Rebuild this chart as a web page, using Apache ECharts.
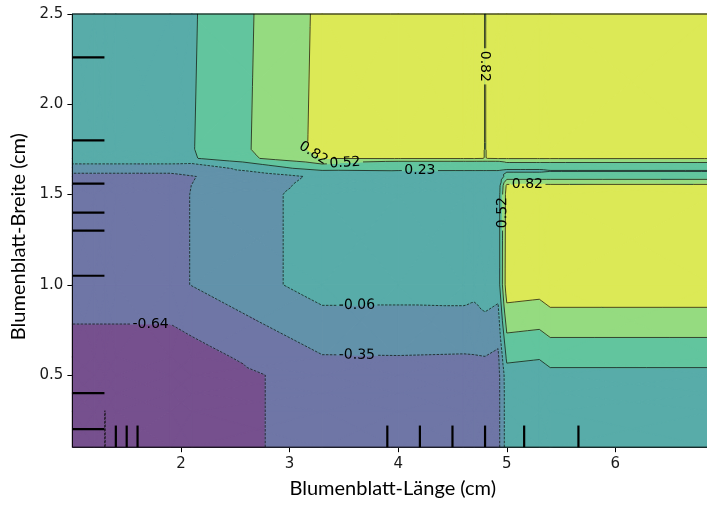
<!DOCTYPE html>
<html>
<head>
<meta charset="utf-8">
<script src="https://cdn.jsdelivr.net/npm/echarts@6/dist/echarts.min.js"></script>
<style>
  html, body { margin: 0; padding: 0; background: #fff; }
  #chart { width: 707px; height: 506px; }
</style>
</head>
<body>
<div id="chart"></div>
<script>
// ---- partial dependence grid: petal length (x) by petal width (y) ----
const petalLength = [1.0, 1.2, 1.3, 1.4, 1.9, 2.1, 3.3, 4.0, 4.6, 4.7, 4.8, 4.92, 5.0, 5.3, 5.4, 6.9];
const petalWidth = [0.1, 0.3, 0.4, 0.5, 0.6, 1.0, 1.5, 1.55, 1.6, 1.63, 1.65, 1.68, 1.7, 1.75, 2.5];

// one row of partial dependence values per petal width, across petal length
const pd_w010 = [-0.85, -0.85, -0.930, -0.85, -0.85, -0.801, -0.51, -0.51, -0.51, -0.51, -0.51, -0.45, 0.10, 0.10, 0.10, 0.10];
const pd_w030 = [-0.85, -0.85, -0.930, -0.85, -0.85, -0.801, -0.51, -0.51, -0.51, -0.51, -0.51, -0.45, 0.10, 0.10, 0.10, 0.10];
const pd_w040 = [-0.85, -0.85, -0.85, -0.85, -0.85, -0.801, -0.51, -0.51, -0.51, -0.51, -0.51, -0.45, 0.10, 0.10, 0.10, 0.10];
const pd_w050 = [-0.85, -0.85, -0.85, -0.85, -0.85, -0.801, -0.51, -0.51, -0.51, -0.51, -0.51, -0.45, 0.12, 0.085, 0.163, 0.163];
const pd_w060 = [-0.83, -0.83, -0.83, -0.83, -0.83, -0.755, -0.36, -0.355, -0.365, -0.36, -0.35, -0.40, 0.294, 0.259, 0.337, 0.337];
const pd_w100 = [-0.407, -0.407, -0.407, -0.407, -0.407, -0.34, 0.065, 0.06, 0.07, 0.04, 0.12, 0.065, 0.99, 0.955, 1.033, 1.033];
const pd_w150 = [-0.407, -0.407, -0.407, -0.407, -0.407, -0.34, 0.065, 0.065, 0.065, 0.065, 0.065, 0.065, 0.95, 0.95, 0.95, 0.95];
const pd_w155 = [-0.41, -0.41, -0.41, -0.41, -0.41, -0.345, 0.03, 0.04, 0.04, 0.04, 0.04, 0.04, 0.877, 0.877, 0.877, 0.877];
const pd_w160 = [-0.42, -0.42, -0.42, -0.42, -0.42, -0.359, -0.004, 0.0, 0.0, 0.0, 0.0, 0.0, 0.357, 0.357, 0.357, 0.357];
const pd_w163 = [-0.2965, -0.2965, -0.2965, -0.2965, -0.2965, -0.25, 0.20, 0.225, 0.225, 0.225, 0.225, 0.225, 0.20, 0.20, 0.225, 0.225];
const pd_w165 = [-0.2, -0.2, -0.2, -0.2, -0.2, -0.2, 0.40, 0.30, 0.30, 0.30, 0.30, 0.30, 0.28, 0.28, 0.28, 0.28];
const pd_w168 = [0.021, 0.021, 0.021, 0.021, 0.021, 0.0, 0.60, 0.45, 0.45, 0.45, 0.45, 0.45, 0.55, 0.55, 0.55, 0.55];
const pd_w170 = [0.05, 0.05, 0.05, 0.05, 0.10, 0.205, 0.82, 0.83, 0.83, 0.83, 0.812, 0.83, 0.83, 0.83, 0.83, 0.83];
const pd_w175 = [0.05, 0.05, 0.05, 0.05, 0.10, 0.22, 0.89, 0.876, 0.876, 0.876, 0.812, 0.876, 0.95, 0.95, 0.95, 0.95];
const pd_w250 = [0.05, 0.05, 0.05, 0.05, 0.10, 0.205, 0.876, 0.876, 0.876, 0.876, 0.812, 0.876, 0.95, 0.95, 0.95, 0.95];
const pdGrid = [pd_w010, pd_w030, pd_w040, pd_w050, pd_w060, pd_w100, pd_w150, pd_w155,
                pd_w160, pd_w163, pd_w165, pd_w168, pd_w170, pd_w175, pd_w250];

// contour levels (eight evenly spaced levels between the surface min and max)
const levels = [-0.9277, -0.6372, -0.3467, -0.0562, 0.2343, 0.5248, 0.8153, 1.1058];

// deciles of the two features, drawn as rug ticks
const lengthDeciles = [1.4, 1.5, 1.6, 3.9, 4.2, 4.5, 4.8, 5.16, 5.66];
const widthDeciles = [0.2, 0.4, 1.05, 1.3, 1.4, 1.56, 1.8, 2.26];

// axis tick labels
const xTicks = [2, 3, 4, 5, 6];
const yTicks = [0.5, 1.0, 1.5, 2.0, 2.5];

// contour label anchors: level index and an approximate spot on that line
const labelLevel = [1, 2, 3, 4, 5, 5, 6, 6, 6];
const labelAtLength = [1.72, 3.62, 3.62, 4.20, 3.51, 4.94, 3.21, 4.80, 5.19];
const labelAtWidth = [0.78, 0.61, 0.89, 1.63, 1.675, 1.40, 1.72, 2.21, 1.57];

// ---- styling ----
const bandColors = ['#76508e', '#6f76a6', '#6292aa', '#58aca9', '#62c59e', '#95db80', '#dce956'];
const LABEL_FONT = '"DejaVu Sans"';
const LABEL_SIZE = 14;

// ---- geometry: split every grid cell in four triangles around its centre ----
function buildTriangles() {
  const nx = petalLength.length, ny = petalWidth.length;
  const V = (i, j) => ({ x: petalLength[i], y: petalWidth[j], z: pdGrid[j][i], id: j * nx + i });
  const tris = [];
  let cid = nx * ny;
  for (let j = 0; j < ny - 1; j++) {
    for (let i = 0; i < nx - 1; i++) {
      const a = V(i, j), b = V(i + 1, j), c = V(i + 1, j + 1), d = V(i, j + 1);
      const m = { x: (a.x + b.x) / 2, y: (a.y + d.y) / 2, z: (a.z + b.z + c.z + d.z) / 4, id: cid++ };
      tris.push([a, b, m], [b, c, m], [c, d, m], [d, a, m]);
    }
  }
  return tris;
}

function lerpAt(P, Q, L) {
  const t = (L - P.z) / (Q.z - P.z);
  return { x: P.x + t * (Q.x - P.x), y: P.y + t * (Q.y - P.y), z: L };
}
function clipPoly(poly, L, keepAbove) {
  const out = [];
  const n = poly.length;
  for (let k = 0; k < n; k++) {
    const P = poly[k], Q = poly[(k + 1) % n];
    const pin = keepAbove ? P.z >= L : P.z < L;
    const qin = keepAbove ? Q.z >= L : Q.z < L;
    if (pin) out.push(P);
    if (pin !== qin) out.push(lerpAt(P, Q, L));
  }
  return out;
}

// filled bands
function buildBands(tris) {
  const nb = levels.length - 1;
  const polys = [];
  tris.forEach(tri => {
    for (let b = 0; b < nb; b++) {
      let poly = tri.slice();
      if (b > 0) poly = clipPoly(poly, levels[b], true);
      if (poly.length >= 3 && b < nb - 1) poly = clipPoly(poly, levels[b + 1], false);
      if (poly.length >= 3) polys.push({ band: b, pts: poly });
    }
  });
  return polys;
}

// iso-lines, chained into polylines
function edgeCrossing(P, Q, L) {
  if (P.id > Q.id) { const t = P; P = Q; Q = t; }
  const p = lerpAt(P, Q, L);
  return { key: P.id + '_' + Q.id, x: p.x, y: p.y };
}
function chainSegments(segs) {
  const byKey = new Map();
  segs.forEach((s, idx) => {
    [s[0].key, s[1].key].forEach(k => {
      if (!byKey.has(k)) byKey.set(k, []);
      byKey.get(k).push(idx);
    });
  });
  const used = new Array(segs.length).fill(false);
  const lines = [];
  const extend = (line, atEnd) => {
    for (;;) {
      const end = atEnd ? line[line.length - 1] : line[0];
      const cand = byKey.get(end.key).find(i => !used[i]);
      if (cand === undefined) break;
      used[cand] = true;
      const s = segs[cand];
      const nxt = s[0].key === end.key ? s[1] : s[0];
      if (atEnd) line.push(nxt); else line.unshift(nxt);
    }
  };
  for (let s0 = 0; s0 < segs.length; s0++) {
    if (used[s0]) continue;
    used[s0] = true;
    const line = [segs[s0][0], segs[s0][1]];
    extend(line, true);
    extend(line, false);
    lines.push(line);
  }
  return lines;
}
function buildIsolines(tris) {
  return levels.map(L => {
    const segs = [];
    tris.forEach(tri => {
      const up = tri.map(v => v.z >= L);
      const pts = [];
      [[0, 1], [1, 2], [2, 0]].forEach(([p, q]) => {
        if (up[p] !== up[q]) pts.push(edgeCrossing(tri[p], tri[q], L));
      });
      if (pts.length === 2) segs.push(pts);
    });
    return chainSegments(segs);
  });
}

const triangles = buildTriangles();
const bandPolys = buildBands(triangles);
const isolines = buildIsolines(triangles);

// ---- label helpers (pixel space) ----
const measureCtx = document.createElement('canvas').getContext('2d');
function textWidth(str) {
  measureCtx.font = LABEL_SIZE + 'px ' + LABEL_FONT;
  return measureCtx.measureText(str).width;
}
function nearestOnLines(lines, p) {
  let best = null;
  lines.forEach(line => {
    for (let k = 1; k < line.length; k++) {
      const a = line[k - 1], b = line[k];
      const dx = b[0] - a[0], dy = b[1] - a[1];
      const len2 = dx * dx + dy * dy;
      let t = len2 > 0 ? ((p[0] - a[0]) * dx + (p[1] - a[1]) * dy) / len2 : 0;
      t = Math.max(0, Math.min(1, t));
      const q = [a[0] + t * dx, a[1] + t * dy];
      const d = Math.hypot(q[0] - p[0], q[1] - p[1]);
      if (!best || d < best.d) best = { d, q, dx, dy };
    }
  });
  return best;
}
function clipParam(P, Q, box) {
  const c = Math.cos(box.ang), s = Math.sin(box.ang);
  const loc = pt => {
    const rx = pt[0] - box.cx, ry = pt[1] - box.cy;
    return [rx * c + ry * s, -rx * s + ry * c];
  };
  const p = loc(P), q = loc(Q);
  const d = [q[0] - p[0], q[1] - p[1]];
  let t0 = 0, t1 = 1;
  const tests = [[-d[0], p[0] + box.hw], [d[0], box.hw - p[0]], [-d[1], p[1] + box.hh], [d[1], box.hh - p[1]]];
  for (const [pp, qq] of tests) {
    if (pp === 0) { if (qq < 0) return null; continue; }
    const r = qq / pp;
    if (pp < 0) { if (r > t1) return null; if (r > t0) t0 = r; }
    else { if (r < t0) return null; if (r < t1) t1 = r; }
  }
  if (t1 - t0 <= 1e-9) return null;
  return [t0, t1];
}
function cutPolyline(pts, box) {
  const out = [];
  let cur = [pts[0]];
  const lp = (P, Q, t) => [P[0] + t * (Q[0] - P[0]), P[1] + t * (Q[1] - P[1])];
  for (let k = 1; k < pts.length; k++) {
    const P = pts[k - 1], Q = pts[k];
    const r = clipParam(P, Q, box);
    if (!r) { cur.push(Q); continue; }
    if (r[0] > 0) cur.push(lp(P, Q, r[0]));
    if (cur.length > 1) out.push(cur);
    cur = [];
    if (r[1] < 1) { cur.push(lp(P, Q, r[1])); cur.push(Q); }
  }
  if (cur.length > 1) out.push(cur);
  return out;
}

// ---- chart ----
const chart = echarts.init(document.getElementById('chart'), null, { renderer: 'canvas' });
const anchor = [[petalLength[0], petalWidth[0]]];

chart.setOption({
  animation: false,
  grid: { left: 72.4, top: 14, width: 640.7, height: 433.2, containLabel: false, outerBoundsMode: 'none' },
  xAxis: {
    type: 'value', min: 1.0, max: 6.9,
    name: 'Blumenblatt-Länge (cm)', nameLocation: 'middle', nameGap: 31,
    nameTextStyle: { fontFamily: 'Lato', fontSize: 20, color: '#000' },
    axisLine: { show: true, lineStyle: { color: '#000', width: 1 } },
    axisTick: { show: true, length: 5, lineStyle: { color: '#000', width: 1 }, customValues: xTicks },
    axisLabel: { customValues: xTicks, formatter: v => String(v), fontFamily: LABEL_FONT, fontSize: 15, color: '#1a1a1a', margin: 9 },
    splitLine: { show: false }
  },
  yAxis: {
    type: 'value', min: 0.1, max: 2.5,
    name: 'Blumenblatt-Breite (cm)', nameLocation: 'middle', nameGap: 44, nameRotate: 90,
    nameTextStyle: { fontFamily: 'Lato', fontSize: 20, color: '#000', padding: [0, 12, 0, 0] },
    axisLine: { show: true, lineStyle: { color: '#000', width: 1 } },
    axisTick: { show: true, length: 5, lineStyle: { color: '#000', width: 1 }, customValues: yTicks },
    axisLabel: { customValues: yTicks, formatter: v => v.toFixed(1), fontFamily: LABEL_FONT, fontSize: 15, color: '#1a1a1a', margin: 9 },
    splitLine: { show: false }
  },
  series: [
    {
      // filled contour bands
      type: 'custom', coordinateSystem: 'cartesian2d', data: anchor, z: 2, silent: true,
      renderItem: (params, api) => ({
        type: 'group',
        children: bandPolys.map(p => ({
          type: 'polygon',
          shape: { points: p.pts.map(v => api.coord([v.x, v.y])) },
          style: { fill: bandColors[p.band], stroke: bandColors[p.band], lineWidth: 1.1, lineJoin: 'round' }
        }))
      })
    },
    {
      // contour lines with inline labels
      type: 'custom', coordinateSystem: 'cartesian2d', data: anchor, z: 3, silent: true,
      renderItem: (params, api) => {
        const pix = isolines.map(lines => lines.map(line => line.map(v => api.coord([v.x, v.y]))));
        const texts = [];
        const boxes = levels.map(() => []);
        labelLevel.forEach((lv, i) => {
          const hint = api.coord([labelAtLength[i], labelAtWidth[i]]);
          const hit = nearestOnLines(pix[lv], hint);
          if (!hit) return;
          let ang = Math.atan2(hit.dy, hit.dx);
          if (ang > Math.PI / 2 + 1e-6) ang -= Math.PI;
          if (ang < -Math.PI / 2 - 1e-6) ang += Math.PI;
          const str = levels[lv].toFixed(2);
          const w = textWidth(str);
          boxes[lv].push({ cx: hit.q[0], cy: hit.q[1], ang, hw: w / 2 + 2.5, hh: LABEL_SIZE / 2 });
          texts.push({
            type: 'text', x: hit.q[0], y: hit.q[1], rotation: -ang,
            style: { text: str, fill: '#000', fontSize: LABEL_SIZE, fontFamily: LABEL_FONT, align: 'center', verticalAlign: 'middle' }
          });
        });
        const children = [];
        pix.forEach((lines, lv) => {
          let parts = lines;
          boxes[lv].forEach(box => {
            const next = [];
            parts.forEach(pl => cutPolyline(pl, box).forEach(q => next.push(q)));
            parts = next;
          });
          const dashed = levels[lv] < 0;
          parts.forEach(pl => children.push({
            type: 'polyline', shape: { points: pl },
            style: { stroke: '#111', lineWidth: 0.75, fill: null, lineDash: dashed ? [2.6, 1.3] : null }
          }));
        });
        return { type: 'group', children: children.concat(texts) };
      }
    },
    {
      // decile rug ticks and the axes frame
      type: 'custom', coordinateSystem: 'cartesian2d', data: anchor, z: 4, silent: true,
      renderItem: (params, api) => {
        const cs = params.coordSys;
        const children = [];
        const tickH = cs.height * 0.05, tickW = cs.width * 0.05;
        lengthDeciles.forEach(v => {
          const p = api.coord([v, 0.1]);
          children.push({ type: 'line', shape: { x1: p[0], y1: p[1], x2: p[0], y2: p[1] - tickH }, style: { stroke: '#000', lineWidth: 2.2 } });
        });
        widthDeciles.forEach(v => {
          const p = api.coord([1.0, v]);
          children.push({ type: 'line', shape: { x1: p[0], y1: p[1], x2: p[0] + tickW, y2: p[1] }, style: { stroke: '#000', lineWidth: 2.2 } });
        });
        children.push({ type: 'rect', shape: { x: cs.x, y: cs.y, width: cs.width, height: cs.height }, style: { fill: null, stroke: '#000', lineWidth: 1 } });
        return { type: 'group', children };
      }
    }
  ]
});
</script>
</body>
</html>
